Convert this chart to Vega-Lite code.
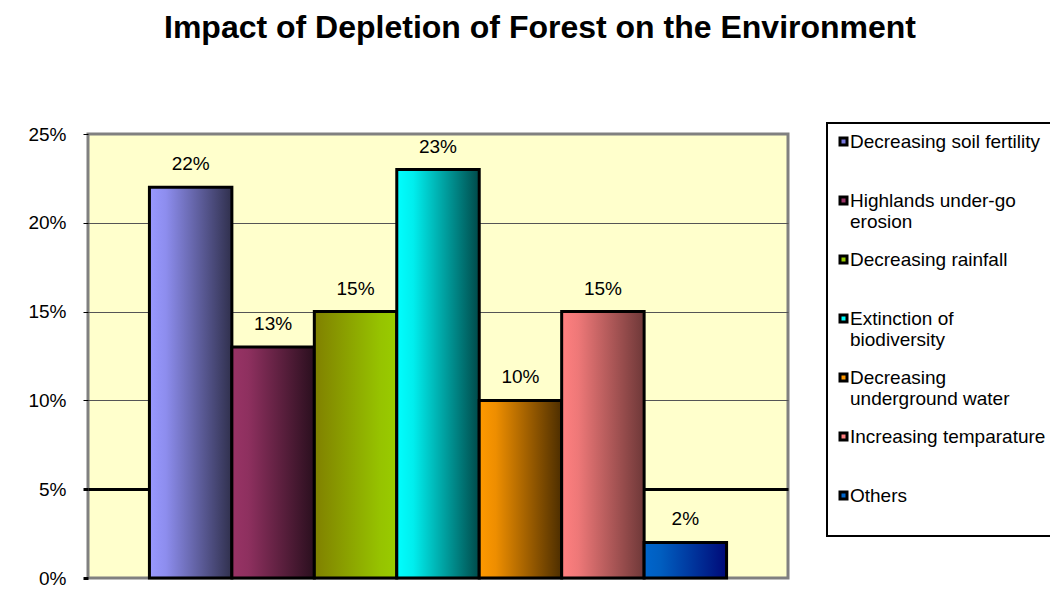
{
  "$schema": "https://vega.github.io/schema/vega-lite/v6.json",
  "width": 700,
  "height": 444,
  "autosize": {"type": "none"},
  "padding": {"left": 88, "top": 134, "right": 262, "bottom": 13},
  "background": "white",
  "title": {
    "text": "Impact of Depletion of Forest on the Environment",
    "font": "Liberation Sans",
    "fontSize": 32,
    "fontWeight": "bold",
    "color": "black",
    "anchor": "middle",
    "dx": 102,
    "offset": 52,
    "baseline": "alphabetic"
  },
  "data": {
    "values": [
      {"cause": "Decreasing soil fertility", "share": 0.22},
      {"cause": "Highlands under-go erosion", "share": 0.13},
      {"cause": "Decreasing rainfall", "share": 0.15},
      {"cause": "Extinction of biodiversity", "share": 0.23},
      {"cause": "Decreasing underground water", "share": 0.10},
      {"cause": "Increasing temparature", "share": 0.15},
      {"cause": "Others", "share": 0.02}
    ]
  },
  "encoding": {
    "x": {
      "field": "cause",
      "type": "nominal",
      "sort": null,
      "scale": {"paddingInner": 0, "paddingOuter": 0.745},
      "axis": null
    },
    "y": {
      "field": "share",
      "type": "quantitative",
      "scale": {"domain": [0, 0.25], "nice": false},
      "axis": {
        "values": [0, 0.05, 0.1, 0.15, 0.2, 0.25],
        "format": ".0%",
        "title": null,
        "domain": false,
        "tickColor": "black",
        "tickSize": 5,
        "tickWidth": {"condition": {"test": "datum.value < 0.06", "value": 3}, "value": 1},
        "labelFont": "Liberation Sans",
        "labelFontSize": 19,
        "labelColor": "black",
        "labelPadding": 17,
        "gridColor": {
          "condition": [
            {"test": "datum.value == 0 || datum.value > 0.24", "value": "transparent"},
            {"test": "datum.value > 0.04 && datum.value < 0.06", "value": "black"}
          ],
          "value": "#555555"
        },
        "gridWidth": {"condition": {"test": "datum.value > 0.04 && datum.value < 0.06", "value": 3}, "value": 1}
      }
    }
  },
  "layer": [
    {
      "mark": {"type": "bar", "stroke": "black", "strokeWidth": 3},
      "encoding": {
        "fill": {
          "field": "cause",
          "type": "nominal",
          "sort": null,
          "scale": {
            "domain": ["Decreasing soil fertility", "Highlands under-go erosion", "Decreasing rainfall", "Extinction of biodiversity", "Decreasing underground water", "Increasing temparature", "Others"],
            "range": ["#7777DD", "#993366", "#99CC00", "#00FFFF", "#FF9900", "#FF8080", "#0066CC"]
          },
          "legend": {
            "title": null,
            "orient": "none",
            "legendX": 739,
            "legendY": -11,
            "padding": 9,
            "strokeColor": "black",
            "fillColor": "white",
            "symbolType": "square",
            "symbolSize": 49,
            "symbolStrokeColor": "black",
            "symbolStrokeWidth": 3,
            "symbolOpacity": 1,
            "symbolOffset": -2,
            "labelFont": "Liberation Sans",
            "labelFontSize": 19,
            "labelColor": "black",
            "labelLimit": 400,
            "labelOffset": -3,
            "labelBaseline": "middle",
            "rowPadding": 18,
            "labelExpr": "datum.label == 'Highlands under-go erosion' ? ['Highlands under-go', 'erosion'] : datum.label == 'Extinction of biodiversity' ? ['Extinction of', 'biodiversity'] : datum.label == 'Decreasing underground water' ? ['Decreasing', 'underground water'] : [datum.label, '']"
          },
          "condition": [
            {"test": "datum.cause == 'Decreasing soil fertility'", "value": {"gradient": "linear", "x1": 0, "y1": 0, "x2": 1, "y2": 0, "stops": [{"offset": 0, "color": "#9999FF"}, {"offset": 0.2, "color": "#8D8DEE"}, {"offset": 1, "color": "#30304D"}]}},
            {"test": "datum.cause == 'Highlands under-go erosion'", "value": {"gradient": "linear", "x1": 0, "y1": 0, "x2": 1, "y2": 0, "stops": [{"offset": 0, "color": "#993366"}, {"offset": 0.2, "color": "#8E305F"}, {"offset": 1, "color": "#2A0F1E"}]}},
            {"test": "datum.cause == 'Decreasing rainfall'", "value": {"gradient": "linear", "x1": 0, "y1": 0, "x2": 1, "y2": 0, "stops": [{"offset": 0, "color": "#808000"}, {"offset": 0.8, "color": "#96C300"}, {"offset": 1, "color": "#99CC00"}]}},
            {"test": "datum.cause == 'Extinction of biodiversity'", "value": {"gradient": "linear", "x1": 0, "y1": 0, "x2": 1, "y2": 0, "stops": [{"offset": 0, "color": "#00FFFF"}, {"offset": 0.2, "color": "#00EEEE"}, {"offset": 1, "color": "#004A4A"}]}},
            {"test": "datum.cause == 'Decreasing underground water'", "value": {"gradient": "linear", "x1": 0, "y1": 0, "x2": 1, "y2": 0, "stops": [{"offset": 0, "color": "#FF9900"}, {"offset": 0.2, "color": "#EE8E00"}, {"offset": 1, "color": "#4D2E00"}]}},
            {"test": "datum.cause == 'Increasing temparature'", "value": {"gradient": "linear", "x1": 0, "y1": 0, "x2": 1, "y2": 0, "stops": [{"offset": 0, "color": "#FF8080"}, {"offset": 0.2, "color": "#EE7878"}, {"offset": 1, "color": "#6E3838"}]}},
            {"test": "datum.cause == 'Others'", "value": {"gradient": "linear", "x1": 0, "y1": 0, "x2": 1, "y2": 0, "stops": [{"offset": 0, "color": "#0066CC"}, {"offset": 0.2, "color": "#005EC0"}, {"offset": 1, "color": "#000A78"}]}}
          ]
        }
      }
    },
    {
      "mark": {"type": "text", "dy": -17, "baseline": "alphabetic", "font": "Liberation Sans", "fontSize": 19, "color": "black"},
      "encoding": {
        "text": {"field": "share", "type": "quantitative", "format": ".0%"}
      }
    }
  ],
  "config": {
    "font": "Liberation Sans",
    "view": {"fill": "#FFFFCC", "stroke": "#808080", "strokeWidth": 3},
    "legend": {"strokeWidth": 2}
  }
}
